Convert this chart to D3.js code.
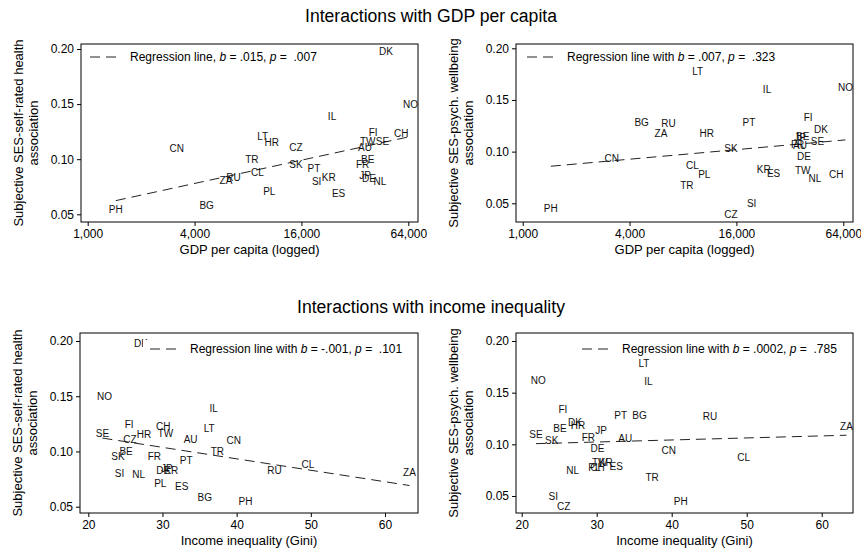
<!DOCTYPE html>
<html lang="en">
<head>
<meta charset="utf-8">
<title>Interactions with GDP per capita and income inequality</title>
<style>
  body { margin: 0; background: #fff; }
  svg { display: block; font-family: "Liberation Sans", Arial, sans-serif; }
  text { fill: #000; }
  .lbl { font-size: 10px; fill: #111; }
  .tick text { font-size: 12px; }
  .ax-title { font-size: 13px; }
  .title { font-size: 17.6px; }
  .leg { font-size: 12px; white-space: pre; }
</style>
</head>
<body>
<script src="https://cdnjs.cloudflare.com/ajax/libs/d3/7.8.5/d3.min.js"></script>
<script>
// country codes and the four variables
const countries = ["AU","BE","BG","CH","CL","CN","CZ","DE","DK","ES","FI","FR","HR","IL","JP",
                   "KR","LT","NL","NO","PH","PL","PT","RU","SE","SI","SK","TR","TW","ZA"];
const gdp = [36500, 37800, 4680, 58400, 9030, 3170, 14900, 38400, 47900, 25900, 40600, 35400, 10900, 23800, 36500,
             22800, 9670, 44300, 65800, 1440, 10550, 18800, 6620, 45800, 19500, 14900, 8420, 37800, 6010];
const gini = [33.8, 25.1, 35.7, 30.1, 49.6, 39.6, 25.6, 30.1, 27.1, 32.6, 25.5, 28.9, 27.5, 36.9, 30.6,
              31.2, 36.3, 26.8, 22.2, 41.2, 29.7, 33.2, 45.1, 21.9, 24.2, 24.0, 37.4, 30.4, 63.3];
const healthAssoc = [.111, .100, .058, .123, .088, .1095, .111, .0825, .198, .0685, .124, .095, .115, .139, .085,
                     .083, .1205, .0795, .150, .0547, .071, .092, .083, .116, .080, .095, .100, .1163, .081];
const wellbeingAssoc = [.106, .115, .128, .078, .087, .0937, .0395, .0956, .121, .079, .1335, .107, .118, .1605, .1135,
                        .0824, .178, .0742, .162, .0445, .078, .128, .1274, .110, .0497, .1035, .0675, .082, .1176];

const gdpTicks = [1000, 4000, 16000, 64000];
const giniTicks = [20, 30, 40, 50, 60];
const yTicks = [0.05, 0.10, 0.15, 0.20];

const titles = ["Interactions with GDP per capita", "Interactions with income inequality"];
const yTitles = [["Subjective SES-self-rated health", "association"],
                 ["Subjective SES-psych. wellbeing", "association"]];
const xTitles = ["GDP per capita (logged)", "Income inequality (Gini)"];
const legendLead = ["Regression line, ", "Regression line with ", "Regression line with ", "Regression line with "];
const legendB = [".015", ".007", "-.001", ".0002"];
const legendP = [".007", ".323", ".101", ".785"];

const W = 861, H = 554;
const svg = d3.select("body").append("svg").attr("width", W).attr("height", H);

// panel layout: box, and pixel spots of first/last tick on each axis
const panels = [
  {x: "gdp", y: healthAssoc, box: [81, 44, 418, 222], xr: [87.7, 408.3], yr: [214.3, 49], leg: 90},
  {x: "gdp", y: wellbeingAssoc, box: [516, 44, 853, 222], xr: [522.7, 843.3], yr: [203.3, 48.3], leg: 527},
  {x: "gini", y: healthAssoc, box: [80, 333, 418, 513], xr: [88.3, 385], yr: [506.7, 341], leg: 150},
  {x: "gini", y: wellbeingAssoc, box: [516, 333, 853, 513], xr: [521.7, 821.7], yr: [496, 341], leg: 582}
];

svg.append("text").attr("class", "title").attr("x", 431).attr("y", 22)
   .attr("text-anchor", "middle").text(titles[0]);
svg.append("text").attr("class", "title").attr("x", 431).attr("y", 313)
   .attr("text-anchor", "middle").text(titles[1]);

panels.forEach((p, i) => {
  const isGdp = p.x === "gdp";
  const xs = isGdp ? gdp : gini;
  const [bx0, by0, bx1, by1] = p.box;

  const xScale = isGdp
    ? d3.scaleLog().base(2).domain([1000, 64000]).range(p.xr)
    : d3.scaleLinear().domain([20, 60]).range(p.xr);
  const yScale = d3.scaleLinear().domain([0.05, 0.20]).range(p.yr);

  const g = svg.append("g");

  // regression line (OLS of y on x, x logged for GDP)
  const tx = xs.map(v => isGdp ? Math.log(v) : v);
  const mx = d3.mean(tx), my = d3.mean(p.y);
  const b = d3.sum(tx, (v, k) => (v - mx) * (p.y[k] - my)) / d3.sum(tx, v => (v - mx) * (v - mx));
  const a = my - b * mx;
  const xmin = d3.min(xs), xmax = d3.max(xs);
  const fit = d => a + b * (isGdp ? Math.log(d) : d);
  g.append("line")
    .attr("x1", xScale(xmin)).attr("y1", yScale(fit(xmin)))
    .attr("x2", xScale(xmax)).attr("y2", yScale(fit(xmax)))
    .attr("stroke", "#222").attr("stroke-width", 1).attr("stroke-dasharray", "10,6");

  // country labels as markers
  g.selectAll("text.lbl")
    .data(countries)
    .enter().append("text")
    .attr("class", "lbl")
    .attr("x", (d, k) => xScale(xs[k]))
    .attr("y", (d, k) => yScale(p.y[k]))
    .attr("text-anchor", "middle")
    .attr("dy", "0.35em")
    .text(d => d);

  // legend (white box, dashed sample, text)
  const ly = i < 2 ? 57 : 349;
  const leg = g.append("g");
  const lbg = leg.append("rect").attr("fill", "#fff");
  leg.append("line")
    .attr("x1", p.leg).attr("x2", p.leg + 28).attr("y1", ly).attr("y2", ly)
    .attr("stroke", "#222").attr("stroke-dasharray", "10,6");
  const lt = leg.append("text").attr("class", "leg").attr("x", p.leg + 40).attr("y", ly).attr("dy", "0.35em");
  lt.append("tspan").text(legendLead[i]);
  lt.append("tspan").attr("font-style", "italic").text("b");
  lt.append("tspan").text(" = " + legendB[i] + ", ");
  lt.append("tspan").attr("font-style", "italic").text("p");
  lt.append("tspan").text(" =  " + legendP[i]);
  const bb = lt.node().getBBox();
  lbg.attr("x", p.leg - 7).attr("y", ly - 9).attr("width", bb.x + bb.width - p.leg + 14).attr("height", 18);

  // plot box
  g.append("rect")
    .attr("x", bx0).attr("y", by0).attr("width", bx1 - bx0).attr("height", by1 - by0)
    .attr("fill", "none").attr("stroke", "#000").attr("stroke-width", 1);

  // axes
  const xAxis = d3.axisBottom(xScale).tickValues(isGdp ? gdpTicks : giniTicks)
    .tickSize(4).tickPadding(3)
    .tickFormat(isGdp ? d3.format(",") : d3.format("d"));
  g.append("g")
    .attr("transform", `translate(0,${by1})`)
    .call(xAxis)
    .call(s => s.select(".domain").remove());

  const yAxis = d3.axisLeft(yScale).tickValues(yTicks).tickSize(4).tickPadding(3)
    .tickFormat(d3.format(".2f"));
  g.append("g")
    .attr("transform", `translate(${bx0},0)`)
    .call(yAxis)
    .call(s => s.select(".domain").remove());

  g.selectAll(".tick text").attr("font-family", null).attr("font-size", null).attr("fill", "#000");
  g.selectAll(".tick line").attr("stroke", "#000");

  // axis titles
  g.append("text").attr("class", "ax-title")
    .attr("x", (bx0 + bx1) / 2).attr("y", by1 + 32)
    .attr("text-anchor", "middle").text(xTitles[isGdp ? 0 : 1]);
  const yt = yTitles[i % 2];
  const cy = (by0 + by1) / 2;
  const axX = bx0 - 63;
  yt.forEach((t, k) => {
    g.append("text").attr("class", "ax-title")
      .attr("transform", `translate(${axX + k * 15},${cy}) rotate(-90)`)
      .attr("text-anchor", "middle").attr("dy", "0.35em")
      .text(t);
  });
});
</script>
</body>
</html>
